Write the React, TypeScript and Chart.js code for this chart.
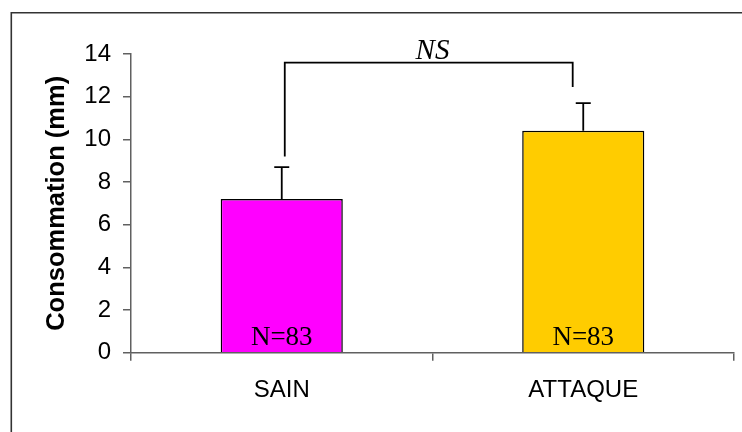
import React, { useEffect, useRef } from "react";
import { Chart, registerables } from "chart.js";

Chart.register(...registerables);

const categories = ["SAIN", "ATTAQUE"];
const means = [7.2, 10.4];
const errors = [1.5, 1.3];
const nLabels = ["N=83", "N=83"];
const barColors = ["#FF00FF", "#FFCC00"];
const yTicks = [0, 2, 4, 6, 8, 10, 12, 14];
const bracketTop = 13.6;
const bracketLegBottoms = [9.2, 12.45];
const bracketX = [0.01, 0.965];
const sigLabel = "NS";
const sigLabelX = 0.5;

const overlayPlugin = {
  id: "overlay",
  beforeDraw(chart: any) {
    const ctx = chart.ctx;
    ctx.save();
    ctx.fillStyle = "#ffffff";
    ctx.fillRect(0, 0, chart.width, chart.height);
    ctx.strokeStyle = "#333333";
    ctx.lineWidth = 1.6;
    ctx.beginPath();
    ctx.moveTo(11.3, chart.height + 2);
    ctx.lineTo(11.3, 12.8);
    ctx.lineTo(chart.width + 2, 12.8);
    ctx.stroke();
    ctx.restore();
  },
  afterDatasetsDraw(chart: any) {
    const ctx = chart.ctx;
    const xs = chart.scales.x;
    const ys = chart.scales.y;
    ctx.save();
    // error bars
    ctx.strokeStyle = "#000000";
    ctx.lineWidth = 1.8;
    means.forEach((m, i) => {
      const cx = xs.getPixelForValue(i);
      const top = ys.getPixelForValue(m);
      const e = ys.getPixelForValue(m + errors[i]);
      ctx.beginPath();
      ctx.moveTo(cx, top);
      ctx.lineTo(cx, e);
      ctx.moveTo(cx - 7.5, e);
      ctx.lineTo(cx + 7.5, e);
      ctx.stroke();
    });
    // bracket
    const bx0 = xs.getPixelForValue(bracketX[0]);
    const bx1 = xs.getPixelForValue(bracketX[1]);
    const by = ys.getPixelForValue(bracketTop);
    ctx.lineWidth = 1.8;
    ctx.beginPath();
    ctx.moveTo(bx0, ys.getPixelForValue(bracketLegBottoms[0]));
    ctx.lineTo(bx0, by);
    ctx.lineTo(bx1, by);
    ctx.lineTo(bx1, ys.getPixelForValue(bracketLegBottoms[1]));
    ctx.stroke();
    // NS label
    ctx.fillStyle = "#000000";
    ctx.font = "italic 29px 'Liberation Serif', 'Times New Roman', serif";
    ctx.textAlign = "center";
    ctx.textBaseline = "alphabetic";
    ctx.fillText(sigLabel, xs.getPixelForValue(sigLabelX), by - 3.5);
    // N labels
    ctx.font = "27px 'Liberation Serif', 'Times New Roman', serif";
    const base = ys.getPixelForValue(0);
    nLabels.forEach((t, i) => {
      ctx.fillText(t, xs.getPixelForValue(i), base - 7.5);
    });
    ctx.restore();
  },
};

export default function App() {
  const ref = useRef<HTMLCanvasElement>(null);
  useEffect(() => {
    if (!ref.current) return;
    const chart = new Chart(ref.current, {
      type: "bar",
      data: {
        labels: categories,
        datasets: [
          {
            data: means,
            backgroundColor: barColors,
            borderColor: "#000000",
            borderWidth: 1.5,
            categoryPercentage: 1,
            barPercentage: 0.405,
          },
        ],
      },
      options: {
        responsive: false,
        animation: false,
        layout: { padding: { top: 54, right: 8, left: 0, bottom: 0 } },
        plugins: {
          legend: { display: false },
          tooltip: { enabled: false },
        },
        scales: {
          x: {
            grid: {
              offset: true,
              drawOnChartArea: false,
              drawTicks: true,
              tickLength: 8,
              color: "#606060",
              lineWidth: 1.5,
            },
            border: { display: true, color: "#606060", width: 1.5 },
            ticks: {
              color: "#000000",
              padding: 15,
              font: { family: "'Liberation Sans', Arial, sans-serif", size: 24 },
            },
            afterFit(scale: any) {
              scale.height = 79.3;
            },
          },
          y: {
            min: 0,
            max: 14,
            afterBuildTicks(scale: any) {
              scale.ticks = yTicks.map((v) => ({ value: v }));
            },
            grid: {
              drawOnChartArea: false,
              drawTicks: true,
              tickLength: 8,
              color: "#606060",
              lineWidth: 1.5,
            },
            border: { display: true, color: "#606060", width: 1.5 },
            ticks: {
              color: "#000000",
              padding: 12,
              font: { family: "'Liberation Sans', Arial, sans-serif", size: 24 },
            },
            title: {
              display: true,
              text: "Consommation (mm)",
              color: "#000000",
              padding: { top: 41.5, bottom: 0 },
              font: {
                family: "'Liberation Sans', Arial, sans-serif",
                size: 25.5,
                weight: "bold",
                lineHeight: 1.2,
              },
            },
            afterFit(scale: any) {
              scale.width = 131;
            },
          },
        },
      },
      plugins: [overlayPlugin],
    } as any);
    return () => chart.destroy();
  }, []);
  return (
    <div style={{ position: "absolute", left: 0, top: 0, width: 742, height: 432 }}>
      <canvas ref={ref} width={742} height={432} />
    </div>
  );
}
